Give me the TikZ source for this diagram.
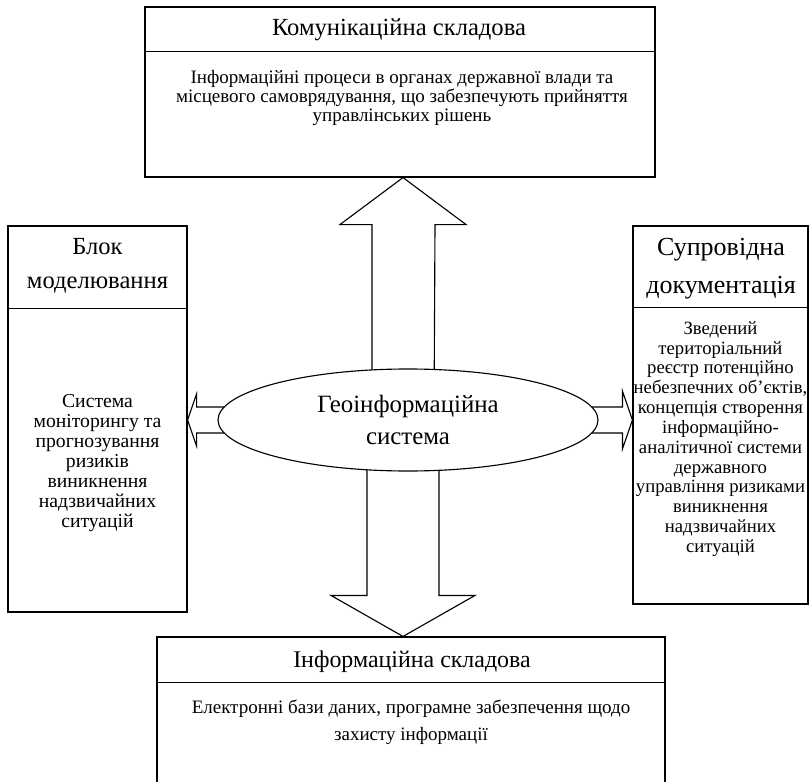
\documentclass[tikz,border=0pt]{standalone}
\usepackage{fontspec}
\setmainfont{Liberation Serif}
\usetikzlibrary{calc,shapes.geometric,backgrounds}

\begin{document}
\begin{tikzpicture}[x=0.025cm,y=-0.025cm,
  box/.style={draw,line width=0.8pt,inner sep=0pt},
  blockarrow/.style={draw,fill=white,line width=0.8pt},
  head/.style={align=center,inner sep=0pt,font=\fontsize{17.5}{24.2}\selectfont},
  body/.style={align=center,inner sep=0pt,font=\fontsize{13.5}{13.8}\selectfont}]
\newcommand{\px}{0.025cm}
\useasboundingbox (0,0) rectangle (810,782);
\clip (0,0) rectangle (810,782);

% boxes
\node [box,minimum width={510*\px},minimum height={170*\px}] (komun) at (400,92) {};
\node [box,minimum width={179*\px},minimum height={386*\px}] (blok) at (97.5,419) {};
\node [box,minimum width={175*\px},minimum height={378*\px}] (suprov) at (720.5,415) {};
\node [box,minimum width={508*\px},minimum height={170*\px}] (inform) at (411,722) {};
\draw [line width=0.8pt] (komun.north west) ++(0,45) -- ++(510,0);
\draw [line width=0.8pt] (blok.north west) ++(0,83) -- ++(179,0);
\draw [line width=0.8pt] (suprov.north west) ++(0,82) -- ++(175,0);
\draw [line width=0.8pt] (inform.north west) ++(0,46) -- ++(508,0);

\node [head] (komuntitle) at (399,30) {Комунікаційна складова};
\node [head] (bloktitle) at (97.5,266) {Блок\\моделювання};
\node [head,font=\fontsize{18.5}{27}\selectfont] (suprovtitle) at (721,269) {Супровідна\\документація};
\node [head,font=\fontsize{17}{24}\selectfont] (informtitle) at (412,662) {Інформаційна складова};

\node [body] (komuntext) at (402,98) {Інформаційні процеси в органах державної влади та\\місцевого самоврядування, що забезпечують прийняття\\управлінських рішень};
\node [body,font=\fontsize{14}{14.2}\selectfont] (bloktext) at (97.5,463) {Система\\моніторингу та\\прогнозування\\ризиків\\виникнення\\надзвичайних\\ситуацій};
\node [body,font=\fontsize{13.3}{14.1}\selectfont] (suprovtext) at (720.5,439) {Зведений\\територіальний\\реєстр потенційно\\небезпечних об’єктів,\\концепція створення\\інформаційно-\\аналітичної системи\\державного\\управління ризиками\\виникнення\\надзвичайних\\ситуацій};
\node [body,font=\fontsize{13.5}{19.2}\selectfont] (informtext) at (411,722.5) {Електронні бази даних, програмне забезпечення щодо\\захисту інформації};

% centre
\node [draw,ellipse,fill=white,line width=0.8pt,minimum width={380*\px},minimum height={102*\px},inner sep=0pt,align=center,font=\fontsize{17.7}{22.8}\selectfont] (geo) at (408,420) {Геоінформаційна\\система};

\coordinate (axis) at (403,420);
\coordinate (uptip) at (axis |- komun.south);
\coordinate (dntip) at (axis |- inform.north);
\coordinate (lftip) at (blok.east |- geo.center);
\coordinate (rttip) at (suprov.west |- geo.center);

\begin{scope}[on background layer]
\draw [blockarrow] (uptip) -- ++(63,47) -- ++(-31,0) -- ($(uptip |- geo.center)+(31,0)$) -- ++(-62,0) -- ($(uptip)+(-31,47)$) -- ++(-32,0) -- cycle;
\draw [blockarrow] (dntip) -- ++(72,-41) -- ++(-36,0) -- ($(dntip |- geo.center)+(36,0)$) -- ++(-72,0) -- ($(dntip)+(-36,-41)$) -- ++(-36,0) -- cycle;
\draw [blockarrow] (lftip) -- ++(9,-26) -- ++(0,13) -- ($(geo.center)+(0,-13)$) -- ++(0,26) -- ($(lftip)+(9,13)$) -- ++(0,13) -- cycle;
\draw [blockarrow] (rttip) -- ++(-10,-29) -- ++(0,16) -- ($(geo.center)+(0,-13)$) -- ++(0,26) -- ($(rttip)+(-10,13)$) -- ++(0,16) -- cycle;
\end{scope}
\end{tikzpicture}
\end{document}
